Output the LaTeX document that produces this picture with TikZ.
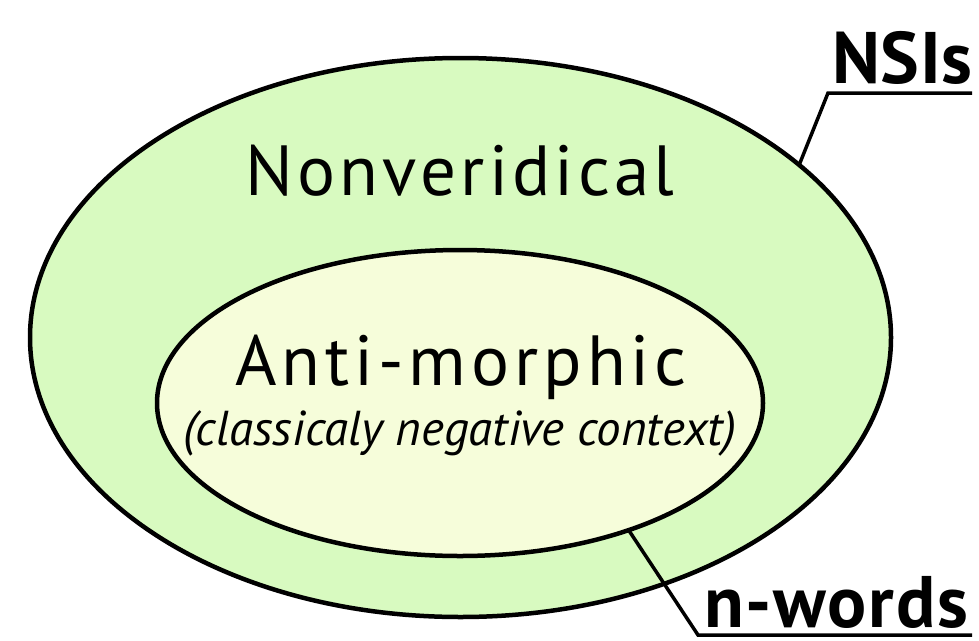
\documentclass[tikz,border=0pt]{standalone}
\usepackage{fontspec}
\setmainfont{PT Sans}
\usetikzlibrary{shapes.geometric}
\definecolor{outerfill}{RGB}{216,250,192}
\definecolor{innerfill}{RGB}{246,253,218}
\tikzset{
  setshape/.style={ellipse, draw=black, line width=4.5pt, inner sep=0pt, outer sep=0pt},
  leader/.style={draw=black, line width=3.5pt, line cap=butt, line join=miter},
  biglabel/.style={inner sep=0pt, font=\fontsize{71}{80}\selectfont},
  sublabel/.style={inner sep=0pt, font=\fontsize{49}{56}\selectfont\itshape},
  sidelabel/.style={inner sep=0pt, font=\fontsize{73}{80}\selectfont\bfseries}
}
\begin{document}
\begin{tikzpicture}[x=1pt,y=-1pt]
\useasboundingbox (0,0) rectangle (979,640);
\node[setshape, fill=outerfill, minimum width=861, minimum height=559] (outer) at (460.5,337.5) {};
\node[setshape, fill=innerfill, minimum width=606, minimum height=306] (inner) at (460,403) {};
\node[biglabel, anchor=base] (nonver) at (460,195) {\addfontfeature{LetterSpace=6}Nonveridical};
\node[biglabel, anchor=base] (anti) at (461,385) {\addfontfeature{LetterSpace=7}Anti-morphic};
\node[sublabel, anchor=base] (classic) at (460,445) {(classicaly negative context)};
\node[sidelabel, anchor=base west] (nsis) at (832,83) {\addfontfeature{LetterSpace=1}NSIs};
\node[sidelabel, anchor=base west] (nwords) at (704,627) {\addfontfeature{LetterSpace=2.5}n-words};
\coordinate (nsikink) at (828,93);
\coordinate (nsiend) at (972,93);
\coordinate (nwkink) at (698,635);
\coordinate (nwend) at (972,635);
\draw[leader] (outer.27.8) -- (nsikink) -- (nsiend);
\draw[leader] (inner.-37) -- (nwkink) -- (nwend);
\end{tikzpicture}
\end{document}
